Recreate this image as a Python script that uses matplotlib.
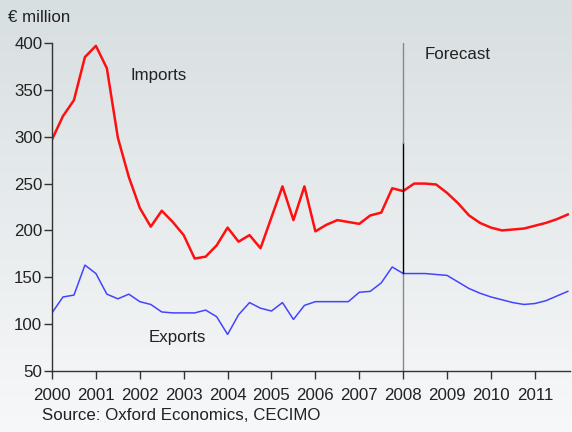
import numpy as np
import matplotlib
matplotlib.use("Agg")
import matplotlib.pyplot as plt

plt.rcParams['font.family'] = ['Liberation Sans', 'DejaVu Sans']

# Quarterly data 2000Q1 .. 2011Q4
quarters = [2000 + i * 0.25 for i in range(48)]
imports = [297, 322, 339, 385,
           397, 373, 299, 257,
           224, 204, 221, 209,
           195, 170, 172, 184,
           203, 188, 195, 181,
           214, 247, 211, 247,
           199, 206, 211, 209,
           207, 216, 219, 245,
           242, 250, 250, 249,
           240, 229, 216, 208,
           203, 200, 201, 202,
           205, 208, 212, 217]
exports = [112, 129, 131, 163,
           154, 132, 127, 132,
           124, 121, 113, 112,
           112, 112, 115, 108,
           89, 110, 123, 117,
           114, 123, 105, 120,
           124, 124, 124, 124,
           134, 135, 144, 161,
           154, 154, 154, 153,
           152, 145, 138, 133,
           129, 126, 123, 121,
           122, 125, 130, 135]
year_ticks = list(range(2000, 2012))
y_ticks = [50, 100, 150, 200, 250, 300, 350, 400]
forecast_start = 2008

FS = 12.2

fig = plt.figure(figsize=(5.72, 4.32), dpi=100)

# background gradient
bg = fig.add_axes([0, 0, 1, 1], zorder=-10)
grad = np.linspace(0, 1, 256).reshape(-1, 1)
top = np.array([216, 223, 225]) / 255.0
bot = np.array([247, 248, 249]) / 255.0
img = top[None, None, :] * (1 - grad[:, :, None]) + bot[None, None, :] * grad[:, :, None]
bg.imshow(img, aspect='auto', extent=[0, 1, 0, 1])
bg.set_axis_off()

ax = fig.add_axes([52 / 572, 1 - 371 / 432, (570 - 52) / 572, (371 - 43) / 432])
ax.patch.set_alpha(0)

ax.plot(quarters, imports, color='#ff1010', lw=1.8, solid_joinstyle='round')
ax.plot(quarters, exports, color='#4444ff', lw=1.1, solid_joinstyle='round')

# forecast divider
ax.plot([forecast_start, forecast_start], [50, 155], color='#888888', lw=1.0)
ax.plot([forecast_start, forecast_start], [155, 293], color='#000000', lw=1.0)
ax.plot([forecast_start, forecast_start], [293, 400], color='#888888', lw=1.0)

ax.set_xlim(2000, 2011.8)
ax.set_ylim(50, 400)
ax.set_xticks(year_ticks)
ax.set_xticklabels([str(y) for y in year_ticks])
ax.set_yticks(y_ticks)
for s in ['top', 'right']:
    ax.spines[s].set_visible(False)
for s in ['left', 'bottom']:
    ax.spines[s].set_color('#333333')
    ax.spines[s].set_linewidth(1.0)
ax.tick_params(axis='both', direction='out', length=6, width=1.0, color='#333333',
               labelsize=FS, labelcolor='#222222')
ax.tick_params(axis='y', pad=1)
ax.tick_params(axis='x', pad=6)

ax.text(2002.42, 365, 'Imports', fontsize=FS, color='#222222', ha='center', va='center')
ax.text(2002.86, 86, 'Exports', fontsize=FS, color='#222222', ha='center', va='center')
ax.text(2009.25, 388, 'Forecast', fontsize=FS, color='#222222', ha='center', va='center')

fig.text(8 / 572, 1 - 17 / 432, '€ million', fontsize=FS, color='#222222', ha='left', va='center')
fig.text(42 / 572, 1 - 416 / 432, 'Source: Oxford Economics, CECIMO', fontsize=FS,
         color='#222222', ha='left', va='center')

fig.savefig('out.png', dpi=100)
